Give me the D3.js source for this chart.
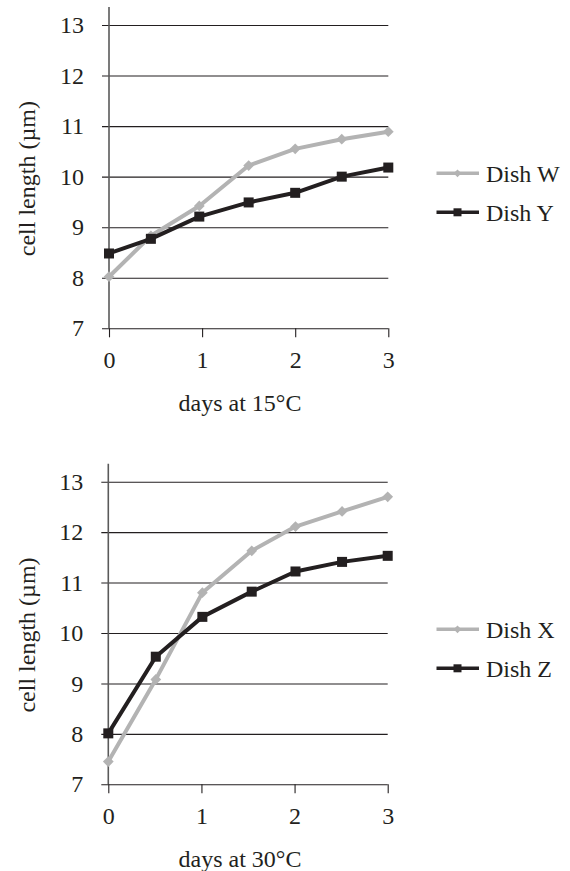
<!DOCTYPE html>
<html>
<head>
<meta charset="utf-8">
<script src="https://cdn.jsdelivr.net/npm/d3@7"></script>
<style>
  html, body { margin: 0; padding: 0; background: #fff; }
  svg { display: block; }
  text { font-family: "Liberation Serif", "Times New Roman", serif; fill: #231f20; }
</style>
</head>
<body>
<svg id="chart" width="570" height="871"></svg>
<script>
// ---- data ----
const yTicks = [7, 8, 9, 10, 11, 12, 13];
const xTicks = [0, 1, 2, 3];

const days15 = [0, 0.45, 0.97, 1.5, 2.0, 2.5, 3.0];
const dishW  = [8.02, 8.83, 9.42, 10.22, 10.55, 10.74, 10.89];
const dishY  = [8.48, 8.77, 9.21, 9.49, 9.68, 10.0, 10.18];

const days30 = [0, 0.51, 1.01, 1.54, 2.01, 2.51, 3.0];
const dishX  = [7.45, 9.08, 10.8, 11.63, 12.11, 12.41, 12.70];
const dishZ  = [8.01, 9.53, 10.32, 10.82, 11.22, 11.41, 11.53];

const xTitles = ["days at 15°C", "days at 30°C"];
const yTitle = "cell length (µm)";
const seriesNames15 = ["Dish W", "Dish Y"];
const seriesNames30 = ["Dish X", "Dish Z"];

// ---- styles ----
const GRAY = "#b3b3b3";
const BLACK = "#231f20";
const FONT = 24;
const FF = '"Liberation Serif", "Times New Roman", serif';

const svg = d3.select("#chart");

function drawPanel(opt) {
  const x = d3.scaleLinear().domain([0, 3]).range([opt.left, opt.right]);
  const y = d3.scaleLinear().domain([7, 13]).range([opt.bottom, opt.top]);
  const g = svg.append("g");

  // gridlines (with left tick extension)
  const yAxis = d3.axisLeft(y).tickValues(yTicks).tickSize(opt.right - opt.left + 7).tickFormat(d3.format("d")).tickPadding(18);
  const ya = g.append("g").attr("transform", `translate(${opt.right},0)`).call(yAxis);
  ya.attr("font-family", FF).attr("font-size", FONT);
  ya.select(".domain").remove();
  ya.selectAll(".tick line").attr("stroke", BLACK).attr("stroke-width", 1.1);
  ya.selectAll(".tick text").attr("font-size", FONT).attr("fill", BLACK).attr("font-family", FF);

  // vertical y-axis line
  g.append("line")
    .attr("x1", opt.left).attr("x2", opt.left)
    .attr("y1", opt.top - 18).attr("y2", opt.bottom)
    .attr("stroke", "#5a5a5a").attr("stroke-width", 1.6);

  // x axis ticks
  const xAxis = d3.axisBottom(x).tickValues(xTicks).tickSize(9).tickPadding(14).tickFormat(d3.format("d"));
  const xa = g.append("g").attr("transform", `translate(0,${opt.bottom})`).call(xAxis);
  xa.attr("font-family", FF).attr("font-size", FONT);
  xa.select(".domain").remove();
  xa.selectAll(".tick line").attr("stroke", BLACK).attr("stroke-width", 1.1);
  xa.selectAll(".tick text").attr("font-size", FONT).attr("fill", BLACK).attr("font-family", FF);

  // titles
  g.append("text").attr("x", 240).attr("y", opt.bottom + 83)
    .attr("text-anchor", "middle").attr("font-size", FONT).text(opt.xTitle);
  g.append("text")
    .attr("transform", `translate(35,${(opt.top + opt.bottom) / 2 + 2}) rotate(-90)`)
    .attr("text-anchor", "middle").attr("font-size", FONT).text(yTitle);

  const line = d3.line().x(d => x(d[0])).y(d => y(d[1]));

  // gray series
  const grayPts = opt.days.map((d, i) => [d, opt.grayVals[i]]);
  g.append("path").attr("d", line(grayPts)).attr("fill", "none")
    .attr("stroke", GRAY).attr("stroke-width", 4).attr("stroke-linejoin", "round");
  g.selectAll(".dia").data(grayPts).enter().append("path")
    .attr("transform", d => `translate(${x(d[0])},${y(d[1])}) rotate(45) scale(0.85)`)
    .attr("d", d3.symbol().type(d3.symbolSquare).size(80)).attr("fill", GRAY);

  // black series
  const blackPts = opt.days.map((d, i) => [d, opt.blackVals[i]]);
  g.append("path").attr("d", line(blackPts)).attr("fill", "none")
    .attr("stroke", BLACK).attr("stroke-width", 4).attr("stroke-linejoin", "round");
  g.selectAll(".sq").data(blackPts).enter().append("rect")
    .attr("x", d => x(d[0]) - 5).attr("y", d => y(d[1]) - 5)
    .attr("width", 10).attr("height", 10).attr("fill", BLACK);

  // legend
  const lg = g.append("g");
  const items = [
    { name: opt.names[0], color: GRAY, marker: "diamond", y: opt.legendY },
    { name: opt.names[1], color: BLACK, marker: "square", y: opt.legendY + 39 }
  ];
  items.forEach(it => {
    lg.append("line").attr("x1", 436.5).attr("x2", 479).attr("y1", it.y).attr("y2", it.y)
      .attr("stroke", it.color).attr("stroke-width", 3.5);
    if (it.marker === "diamond") {
      lg.append("path").attr("transform", `translate(457.5,${it.y}) rotate(45)`)
        .attr("d", d3.symbol().type(d3.symbolSquare).size(30)).attr("fill", it.color);
    } else {
      lg.append("rect").attr("x", 457.5 - 4).attr("y", it.y - 4).attr("width", 8).attr("height", 8).attr("fill", it.color);
    }
    lg.append("text").attr("x", 486).attr("y", it.y).attr("dy", "0.35em")
      .attr("font-size", FONT).text(it.name);
  });
}

drawPanel({
  left: 109, right: 388.3, top: 25, bottom: 328.3,
  days: days15, grayVals: dishW, blackVals: dishY,
  names: seriesNames15, xTitle: xTitles[0], legendY: 173.3
});
drawPanel({
  left: 108.3, right: 387.7, top: 481.7, bottom: 784.3,
  days: days30, grayVals: dishX, blackVals: dishZ,
  names: seriesNames30, xTitle: xTitles[1], legendY: 629.3
});
</script>
</body>
</html>
